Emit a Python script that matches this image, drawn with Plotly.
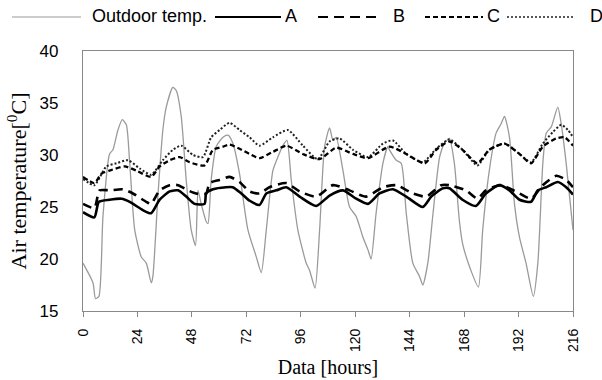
import plotly.graph_objects as go

# ---------------- data ----------------
outdoor_h = [0, 4.4, 5.5, 7, 8.8, 11.7, 13.2, 15.4, 17.3, 19.1, 20.6, 22.8, 25.7, 27.9, 30.1, 30.8,
             33, 35.2, 36.7, 39.6, 41.1, 43.3, 45.5, 47.7, 49.6, 50.7, 52.1, 54.3, 55.1, 56.5, 58.7,
             61.7, 63.9, 66.1, 69, 72.7, 76.4, 78.6, 80.8, 83.7, 85.9, 88.1, 89.9, 91.8, 94.7, 98.4,
             99.9, 102.3, 104.3, 106.5, 108.7, 110.2, 111.6, 114.6, 117.5, 120.4, 123.4, 125.6, 127,
             129.2, 132.2, 134.4, 135.1, 138.1, 140.3, 142.5, 145.4, 148.4, 149.8, 152, 154.3, 157.2,
             159.3, 161.5, 163.7, 165.9, 167.3, 171, 174.3, 176.2, 179.1, 182.1, 184.3, 185.8, 188,
             190.2, 192.4, 195.3, 198.5, 200.5, 202.7, 204.2, 206.4, 209.3, 210.8, 213, 216]
outdoor_t = [19.6, 17.7, 16.2, 16.4, 24.1, 30.1, 30.5, 32.4, 33.4, 32.9, 29.2, 22.8, 20.2, 19.6, 17.7, 18.3,
             26.0, 32.4, 34.6, 36.5, 36.2, 33.7, 27.6, 22.8, 21.3, 26.6, 25.3, 23.6, 23.4, 27.6, 30.8,
             31.7, 31.9, 31.1, 28.2, 22.8, 20.2, 18.7, 22.8, 28.5, 29.8, 30.9, 31.4, 27.6, 22.8, 19.6,
             18.9, 17.2, 22.8, 30.8, 32.6, 31.4, 31.7, 28.5, 25.0, 24.1, 22.1, 20.9, 20.0,
             24.4, 29.2, 30.8, 30.5, 29.5, 29.2, 24.4, 19.6, 18.3, 17.5, 19.6, 24.4, 29.8,
             31.1, 31.6, 29.2, 23.7, 21.5, 18.9, 17.3, 22.8, 28.5, 32.1, 33.0, 33.7, 31.7,
             25.3, 22.1, 19.6, 16.4, 19.6, 29.2, 32.1, 32.7, 34.6, 33.0, 29.2, 22.8]

a_h = [0, 5, 7, 11.7, 17, 20.6, 26.4, 30, 33.8, 38.2, 41.9, 45.5, 49.2, 53.6, 54.3, 57.3, 63, 66, 69.8,
       73.5, 77.8, 80.8, 85.2, 89.6, 95.5, 102.8, 108.7, 114.6, 120.4, 125.6, 130.7, 136.6, 142.5,
       149.8, 153.5, 158.7, 161.5, 167.3, 173.2, 177.6, 183.5, 188, 192.4, 197.5, 200.5, 204.2,
       209.3, 213, 216]
a_t = [24.5, 24.0, 25.5, 25.7, 25.8, 25.5, 24.7, 24.4, 25.7, 26.5, 26.6, 26.0, 25.3, 25.3, 26.3, 26.7,
       26.9, 26.9, 26.3, 25.6, 25.2, 26.3, 26.6, 26.9, 26.0, 25.1, 26.1, 26.6, 25.8, 25.3, 26.3, 26.7,
       26.0, 25.0, 26.0, 26.8, 26.8, 25.7, 25.1, 26.3, 27.1, 26.6, 25.7, 25.5, 26.6, 26.9, 27.4,
       26.9, 26.2]

b_h = [0, 5, 7.3, 11.7, 17.6, 22, 27.9, 30, 33.8, 38.2, 41.9, 46.3, 49.9, 54.3, 55.8, 60.2, 64.6, 69,
       73.4, 77.8, 82.2, 89.6, 95.5, 102.8, 110.2, 117.5, 124.8, 132.2, 138.1, 145.4, 151.3, 157.9,
       161.5, 168.8, 173.9, 177.6, 184.3, 192.4, 197.5, 202.7, 208.6, 213, 216]
b_t = [25.3, 24.9, 26.6, 26.6, 26.7, 26.3, 25.5, 25.3, 26.6, 27.1, 27.1, 26.6, 26.3, 26.3, 27.3, 27.6,
       27.9, 27.4, 26.5, 26.3, 26.9, 27.3, 26.5, 26.0, 27.1, 26.6, 26.0, 26.9, 27.1, 26.3, 26.0, 27.1,
       27.1, 26.6, 25.8, 26.6, 27.1, 26.3, 25.8, 27.1, 28.0, 27.6, 26.9]

c_h = [0, 5, 8.1, 11.7, 18.4, 23.5, 30, 33.8, 38.2, 42.6, 47, 53.6, 57.3, 61.7, 64.6, 69, 73.4, 77.8,
       83.7, 89.6, 96.9, 104.3, 111.6, 119, 125.6, 135.1, 142.5, 150.6, 155.7, 161.5, 167.3, 173.9,
       179.1, 185.8, 192.4, 197.5, 202.7, 208.6, 212.3, 216]
c_t = [27.9, 27.3, 28.2, 28.5, 28.9, 28.5, 27.9, 28.9, 29.5, 29.8, 29.3, 29.0, 30.5, 30.8, 31.0, 30.6,
       30.1, 29.7, 30.3, 30.9, 30.1, 29.6, 30.7, 30.1, 29.7, 30.8, 30.1, 29.2, 30.5, 31.3, 30.5, 29.2,
       30.5, 31.1, 30.1, 29.2, 30.8, 31.6, 31.7, 30.9]

d_h = [0, 5, 10.3, 14.7, 19.8, 25, 30, 35.2, 39.6, 43.3, 48.5, 52.9, 56.5, 60.2, 64.6, 69, 73.4, 77.8,
       83.7, 90.3, 96.9, 103.5, 108.7, 113.1, 119, 125.6, 132.2, 136.6, 142.5, 149.8, 155.7, 161.5,
       167.3, 173.9, 179.1, 185.8, 192.4, 197.5, 202.7, 207.1, 210.8, 213.8, 216]
d_t = [27.7, 27.1, 28.9, 29.2, 29.5, 28.7, 28.1, 29.5, 30.5, 30.9, 30.0, 29.8, 31.7, 32.4, 33.1, 32.4,
       31.7, 30.9, 31.7, 32.4, 30.9, 29.6, 31.3, 31.6, 30.5, 29.8, 31.1, 31.4, 30.1, 29.3, 30.6, 31.5,
       30.5, 29.0, 30.5, 31.1, 30.1, 29.3, 31.1, 32.2, 32.9, 32.4, 31.7]

series_names = ["Outdoor temp.", "A", "B", "C", "D"]
x_ticks = [0, 24, 48, 72, 96, 120, 144, 168, 192, 216]
y_ticks = [15, 20, 25, 30, 35, 40]

# ---------------- styles ----------------
styles = [
    dict(color="#9a9a9a", width=1.3, dash="solid"),
    dict(color="#000000", width=2.6, dash="solid"),
    dict(color="#000000", width=2.6, dash="9px,6px"),
    dict(color="#000000", width=2.3, dash="5px,3px"),
    dict(color="#222222", width=2.0, dash="2px,2px"),
]
legend_dash = ["solid", "solid", "10px,6px", "5px,3px", "2px,2px"]
data_sets = [(outdoor_h, outdoor_t), (a_h, a_t), (b_h, b_t), (c_h, c_t), (d_h, d_t)]

W, H = 602, 380
ML, MR, MT, MB = 83, 29, 51, 69
PW, PH = W - ML - MR, H - MT - MB

fig = go.Figure()
order = [0, 4, 3, 2, 1]
for i in order:
    xs, ys = data_sets[i]
    fig.add_trace(go.Scatter(x=xs, y=ys, mode="lines", name=series_names[i],
                             line=dict(shape="spline", smoothing=0.6, **styles[i]),
                             showlegend=False, hoverinfo="skip"))

# manual legend (pixel layout converted to paper coordinates)
def px(xp):
    return (xp - ML) / PW

def py(yp):
    return 1 + (MT - yp) / PH

legend_lines = [(12, 81, 90), (215, 281, 283), (318, 380, 391), (425, 483, 485), (507, 575, 588)]
shapes = []
annotations = []
ly = 17
for i, (x0, x1, xt) in enumerate(legend_lines):
    st = styles[i]
    shapes.append(dict(type="line", xref="paper", yref="paper", x0=px(x0), x1=px(x1),
                       y0=py(ly), y1=py(ly),
                       line=dict(color=st["color"], width=st["width"] * 0.85, dash=legend_dash[i])))
    annotations.append(dict(text=series_names[i], xref="paper", yref="paper", x=px(xt), y=py(ly - 1),
                            xanchor="left", yanchor="middle", showarrow=False,
                            font=dict(family="Liberation Sans, Arial", size=18, color="#000")))

fig.update_layout(
    width=W, height=H,
    margin=dict(l=ML, r=MR, t=MT, b=MB, autoexpand=False),
    paper_bgcolor="white", plot_bgcolor="white",
    shapes=shapes, annotations=annotations,
    xaxis=dict(range=[0, 216], tickvals=x_ticks, ticktext=[str(v) for v in x_ticks],
               tickangle=-90, ticks="outside", ticklen=5, tickcolor="#888",
               showline=True, linecolor="#888", linewidth=1.3, mirror=True, showgrid=False,
               zeroline=False, ticklabelstandoff=6,
               tickfont=dict(family="Liberation Sans, Arial", size=14, color="#000"),
               title=dict(text="Data [hours]", standoff=8,
                          font=dict(family="Liberation Serif, Times New Roman", size=20, color="#000"))),
    yaxis=dict(range=[15, 40], tickvals=y_ticks, ticks="", showline=True, linecolor="#888",
               linewidth=1.3, mirror=True, showgrid=False, zeroline=False, ticklabelstandoff=20,
               tickfont=dict(family="Liberation Sans, Arial", size=17, color="#000"),
               title=dict(text="Air temperature[<sup>0</sup>C]", standoff=6,
                          font=dict(family="Liberation Serif, Times New Roman", size=22, color="#000"))),
)

fig.write_html("out.html", config={"displayModeBar": False},
               post_script="document.body.style.margin='0px';document.body.style.overflow='hidden';")
